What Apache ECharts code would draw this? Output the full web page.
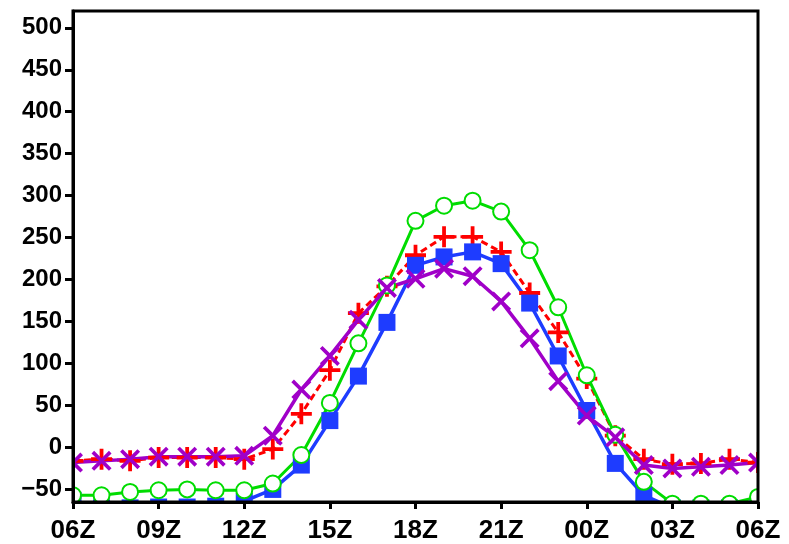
<!DOCTYPE html>
<html>
<head>
<meta charset="utf-8">
<script src="https://cdn.jsdelivr.net/npm/echarts@6/dist/echarts.min.js"></script>
<style>
  html, body { margin: 0; padding: 0; background: #fff; }
  #chart { width: 789px; height: 544px; }
</style>
</head>
<body>
<div id="chart"></div>
<script>
// Hourly time axis, 06Z to 06Z next day (hours since 06Z)
const hours = [0, 1, 2, 3, 4, 5, 6, 7, 8, 9, 10, 11, 12, 13, 14, 15, 16, 17, 18, 19, 20, 21, 22, 23, 24];
const xTickLabels = ['06Z', '09Z', '12Z', '15Z', '18Z', '21Z', '00Z', '03Z', '06Z'];
const yTicks = [-50, 0, 50, 100, 150, 200, 250, 300, 350, 400, 450, 500];

// Series values, one per hour
const blueSquares  = [-63, -72, -72, -71, -71, -70, -64, -50, -21, 32, 85, 149, 217, 227, 233, 219, 172, 109, 44, -19, -57, -72, -72, -72, -72];
const greenCircles = [-57, -57, -53, -51, -50, -51, -51, -43, -9, 53, 124, 193, 270, 288, 294, 281, 235, 167, 86, 15, -41, -67, -67, -67, -59];
const redPlus      = [-16, -14, -16, -12, -12, -12, -14, -2, 40, 92, 160, 192, 229, 251, 251, 233, 184, 137, 82, 14, -14, -20, -19, -14, -18];
const purpleCross  = [-18, -16, -14, -11, -11, -11, -10, 14, 69, 109, 152, 190, 201, 213, 204, 174, 130, 79, 38, 12, -21, -25, -23, -21, -18];

const GRID = { left: 73, right: 31, top: 11, bottom: 40 };
const W = 789, H = 544;

const PLUS = 'path://M4.1,0H5.9V4.1H10V5.9H5.9V10H4.1V5.9H0V4.1H4.1Z';
const CROSS = 'path://M0,1.3L1.3,0L5,3.7L8.7,0L10,1.3L6.3,5L10,8.7L8.7,10L5,6.3L1.3,10L0,8.7L3.7,5Z';

const pairs = vals => hours.map((h, i) => [h, vals[i]]);
const FONT = '"Liberation Sans", Arial, sans-serif';

function makeSeries(vals, color, symbol, size, lineStyle, extra) {
  return Object.assign({
    type: 'line',
    data: pairs(vals),
    symbol: symbol,
    symbolSize: size,
    clip: false,
    animation: false,
    lineStyle: Object.assign({ color: color, width: 3 }, lineStyle),
    itemStyle: { color: color },
    emphasis: { disabled: true }
  }, extra || {});
}

// White masks around the plotting area so marks are cut at the frame
const masks = [
  { x: 0, y: 0, width: GRID.left, height: H },
  { x: W - GRID.right, y: 0, width: GRID.right, height: H },
  { x: 0, y: 0, width: W, height: GRID.top },
  { x: 0, y: H - GRID.bottom, width: W, height: GRID.bottom }
].map(r => ({ type: 'rect', shape: r, style: { fill: '#fff' }, z: 50, silent: true }));

const chart = echarts.init(document.getElementById('chart'), null, { renderer: 'canvas' });
chart.setOption({
  backgroundColor: '#fff',
  animation: false,
  grid: Object.assign({ show: true, borderColor: '#000', borderWidth: 3, z: 100 }, GRID),
  graphic: masks,
  xAxis: {
    type: 'value',
    min: 0, max: 24, interval: 3,
    z: 100,
    axisLine: { show: true, onZero: false, lineStyle: { color: '#000', width: 3 } },
    axisTick: { show: true, length: 7, lineStyle: { color: '#000', width: 3 } },
    axisLabel: {
      color: '#000', fontFamily: FONT, fontWeight: 'bold', fontSize: 26, margin: 16,
      formatter: v => xTickLabels[Math.round(v / 3)]
    },
    splitLine: { show: false }
  },
  yAxis: {
    type: 'value',
    min: -65, max: 520,
    z: 100,
    axisLine: { show: true, onZero: false, lineStyle: { color: '#000', width: 3 } },
    axisTick: { show: true, length: 8, customValues: yTicks, lineStyle: { color: '#000', width: 3 } },
    axisLabel: {
      color: '#000', fontFamily: FONT, fontWeight: 'bold', fontSize: 24, margin: 11,
      customValues: yTicks,
      formatter: v => String(v).replace('-', '\u2212')
    },
    splitLine: { show: false }
  },
  series: [
    makeSeries(redPlus, '#ff0000', PLUS, 21, { width: 3, type: [7, 4] }),
    makeSeries(blueSquares, '#1e3cff', 'rect', 17, { width: 3.5 }),
    makeSeries(greenCircles, '#00dc00', 'emptyCircle', 16, { width: 3 },
      { itemStyle: { color: '#00dc00', borderColor: '#00dc00', borderWidth: 3 } }),
    makeSeries(purpleCross, '#a000c8', CROSS, 20, { width: 3.5 })
  ]
});
</script>
</body>
</html>
